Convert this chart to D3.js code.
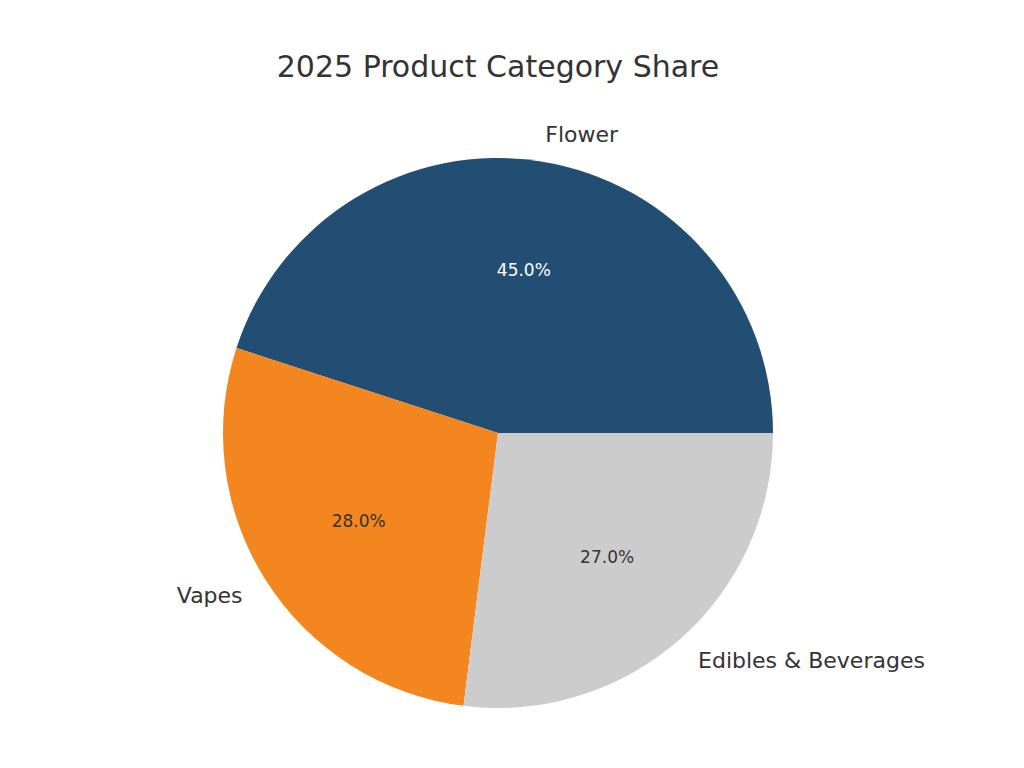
<!DOCTYPE html>
<html><head><meta charset="utf-8">
<script src="https://cdn.jsdelivr.net/npm/d3@7"></script>
<style>body{margin:0;background:#fff}text{font-family:"DejaVu Sans",sans-serif}</style>
</head><body><svg id="c" width="1024" height="768"></svg>
<script>
const categories = ["Flower", "Vapes", "Edibles & Beverages"];
const values = [45, 28, 27];
const colors = ["#234e73", "#f4861f", "#cccccc"];
const pctColors = ["#ffffff", "#333333", "#333333"];

const svg = d3.select("#c");
const cx = 498, cy = 433, r = 275;
svg.append("text").attr("x", 498).attr("y", 77).attr("text-anchor", "middle")
  .attr("font-size", 30).attr("fill", "#333").text("2025 Product Category Share");
const pie = d3.pie().sort(null).startAngle(Math.PI/2).endAngle(Math.PI/2 - 2*Math.PI);
const arcs = pie(values);
const arc = d3.arc().innerRadius(0).outerRadius(r);
const g = svg.append("g").attr("transform", `translate(${cx},${cy})`);
g.selectAll("path").data(arcs).join("path").attr("d", arc).attr("fill", (d,i)=>colors[i]);
const total = d3.sum(values);
arcs.forEach((d,i)=>{
  const a = (d.startAngle + d.endAngle)/2;
  const sx = Math.sin(a), sy = -Math.cos(a);
  g.append("text").attr("x", 0.6*r*sx).attr("y", 0.6*r*sy).attr("dy","0.35em")
    .attr("text-anchor","middle").attr("font-size",17).attr("fill",pctColors[i])
    .text((values[i]/total*100).toFixed(1)+"%");
  g.append("text").attr("x", 1.1*r*sx).attr("y", 1.1*r*sy).attr("dy","0.35em")
    .attr("text-anchor", sx>0?"start":"end").attr("font-size",22).attr("fill","#333")
    .text(categories[i]);
});
</script></body></html>
